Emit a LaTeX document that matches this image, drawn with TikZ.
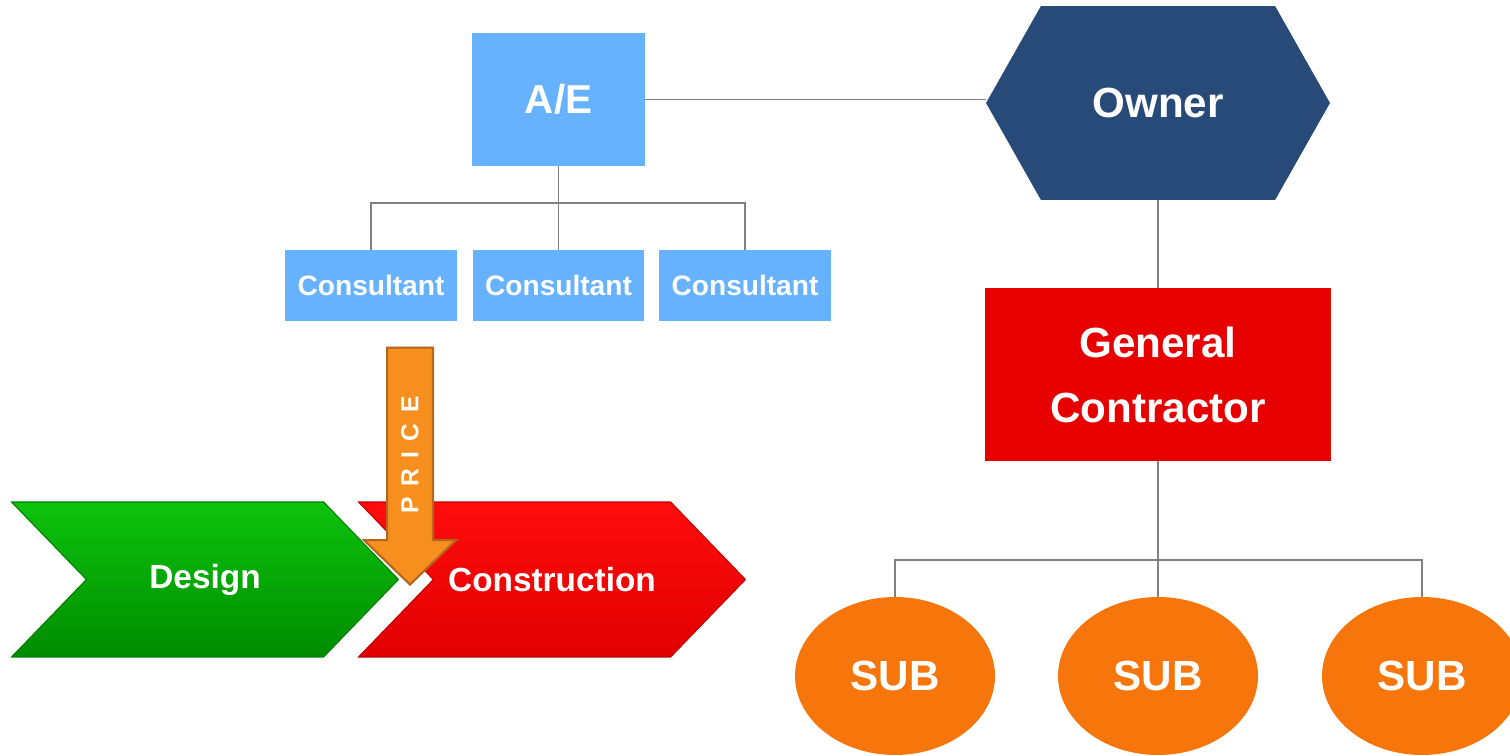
\documentclass[tikz,border=0pt]{standalone}
\usepackage{fontspec}
\setmainfont{Liberation Sans}
\usetikzlibrary{shapes.symbols,shapes.arrows,shapes.geometric}

\definecolor{aeblue}{HTML}{66B2FF}
\definecolor{ownerblue}{HTML}{284A78}
\definecolor{gcred}{HTML}{E60000}
\definecolor{suborange}{HTML}{F7760B}
\definecolor{linegray}{HTML}{808080}
\definecolor{pricefill}{HTML}{F78F1E}
\definecolor{priceedge}{HTML}{B5651D}

\begin{document}
\begin{tikzpicture}[x=0.02cm,y=-0.02cm]
	\tikzset{
		box/.style={fill=aeblue,text=white,inner sep=0pt},
		consult/.style={box,minimum width=3.44cm,minimum height=1.42cm,font=\fontsize{16}{19}\selectfont\bfseries},
		link/.style={draw=linegray,line width=1pt},
		sub/.style={ellipse,fill=suborange,text=white,inner sep=0pt,minimum width=4cm,minimum height=3.16cm,font=\fontsize{24}{28}\selectfont\bfseries},
		phase/.style={signal,signal from=west,signal to=east,signal pointer angle=92,inner sep=0pt,minimum width=7.74cm,minimum height=3.1cm,text=white,font=\fontsize{19}{23}\selectfont\bfseries},
	}
	\useasboundingbox (0,0) rectangle (1510,756);

	\node[box,minimum width=3.46cm,minimum height=2.66cm,font=\fontsize{23}{28}\selectfont\bfseries] (ae) at (558.5,99.5) {A/E};
	\node[consult] (c1) at (371,285.5) {Consultant};
	\node[consult] (c2) at (558.5,285.5) {Consultant};
	\node[consult] (c3) at (745,285.5) {Consultant};

	\node[signal,signal to=west and east,signal pointer angle=121,inner sep=0pt,minimum width=6.88cm,minimum height=3.88cm,fill=ownerblue,text=white,font=\fontsize{24}{28}\selectfont\bfseries] (owner) at (1158,103) {Owner};
	\node[fill=gcred,text=white,inner sep=0pt,minimum width=6.92cm,minimum height=3.46cm,align=center,font=\fontsize{24}{37}\selectfont\bfseries] (gc) at (1158,374.5) {General\\Contractor};

	\node[sub] (s1) at (895,676) {SUB};
	\node[sub] (s2) at (1158,676) {SUB};
	\node[sub] (s3) at (1422,676) {SUB};

	% connectors
	\draw[link] (ae.east) -- (ae.east -| owner.west);
	\draw[link] (ae.south) -- ++(0,37) coordinate (aebus);
	\draw[link] (c1.north) |- (aebus) -| (c3.north);
	\draw[link] (aebus) -- (c2.north);
	\draw[link] (owner.south) -- (gc.north);
	\draw[link] (gc.south) -- ++(0,99) coordinate (gcbus);
	\draw[link] (s1.north) |- (gcbus) -| (s3.north);
	\draw[link] (gcbus) -- (s2.north);

	% phases
	\node[phase,top color=green!75!black!95,bottom color=green!55!black,draw=green!50!black,line width=0.6pt] (design) at (205,579.5) {Design};
	\node[phase,top color=red!95!white,bottom color=red!88!black,draw=red!75!black,line width=0.6pt] (constr) at (552,579.5) {Construction};

	\node[single arrow,rotate=90,shape border rotate=180,fill=pricefill,draw=priceedge,line width=1.2pt,
		single arrow head extend=0.46cm,single arrow tip angle=92,inner xsep=0pt,inner ysep=7.5pt,
		minimum height=4.74cm,minimum width=1.8cm,text=white,font=\fontsize{14}{16}\selectfont\bfseries] (price) at (410,455)
		{P\kern6pt R\kern6pt I\kern6pt C\kern6pt E};

\end{tikzpicture}
\end{document}
